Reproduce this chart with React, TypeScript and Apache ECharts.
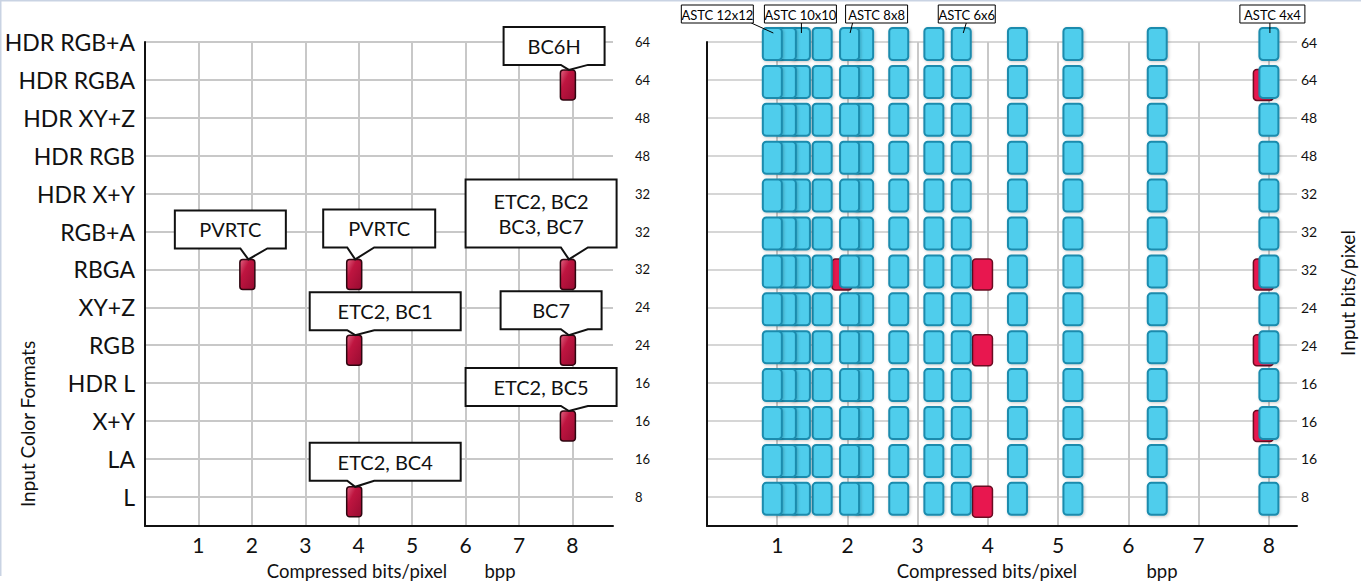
import React, { useEffect, useRef } from "react";
import * as echarts from "echarts";

// ---------- data ----------
const formats = [
  "HDR RGB+A", "HDR RGBA", "HDR XY+Z", "HDR RGB", "HDR X+Y", "RGB+A", "RBGA",
  "XY+Z", "RGB", "HDR L", "X+Y", "LA", "L",
];
const inputBits = [64, 64, 48, 48, 32, 32, 32, 24, 24, 16, 16, 16, 8];

// legacy formats (red markers)
const legacyBpp = [2, 4, 4, 4, 8, 8, 8, 8];
const legacyFormat = ["RBGA", "RBGA", "RGB", "L", "HDR RGBA", "RBGA", "RGB", "X+Y"];
const legacyCodec = [
  "PVRTC", "PVRTC", "ETC2, BC1", "ETC2, BC4", "BC6H", "ETC2, BC2\nBC3, BC7", "BC7", "ETC2, BC5",
];

// ASTC block bit rates (as placed in the picture), highest first so the lowest is on top
const astcBpp = [8.0, 6.41, 5.21, 4.42, 3.62, 3.23, 2.73, 2.23, 2.03, 1.64, 1.33, 1.13, 0.93];
const astcLabelText = ["ASTC 12x12", "ASTC 10x10", "ASTC 8x8", "ASTC 6x6", "ASTC 4x4"];
const astcLabelBpp = [0.93, 1.33, 2.03, 3.62, 8.0];

// ---------- layout / style ----------
const FONT = "Lato";
// callout: [dx of box left from marker centre, box width, gap box-bottom to marker top]
const calloutBox = [
  [-72.5, 111, 11], [-31, 112, 12], [-44.5, 151, 5], [-44.5, 151, 6],
  [-64.3, 101, 5], [-102.3, 151, 12], [-67.3, 101, 6], [-102.3, 151, 5],
];
// astc label: [dx box left, box width, line start dx, line end dx]
const astcLabelBox = [
  [-91, 72, -21, 1], [-36, 72, 1, 1], [-4, 62, 3, 0.5], [-23, 57, 5, 2], [-29, 65, 1, 1],
];

const gridLine = { color: "#c8c8c8", width: 2 };
const axisLineStyle = { color: "#111", width: 2 };

const makeBlockRenderer = (w: number, h: number, ox: number, oy: number, r: number, style: any) =>
  (params: any, api: any) => {
    const p = api.coord([api.value(0), api.value(1)]);
    return {
      type: "rect",
      shape: { x: p[0] + ox - w / 2, y: p[1] + oy - h / 2, width: w, height: h, r },
      style,
    };
  };

export default function App() {
  const ref = useRef<HTMLDivElement>(null);

  useEffect(() => {
    if (!ref.current) return;
    const chart = echarts.init(ref.current, undefined, { renderer: "svg" });

    const rowOf = (name: string) => formats.indexOf(name);
    const legacyData = legacyBpp.map((b, i) => [b, rowOf(legacyFormat[i])]);
    const calloutData = legacyBpp.map((b, i) => [b, rowOf(legacyFormat[i]), i]);
    const astcData: number[][] = [];
    formats.forEach((_, r) => astcBpp.forEach((b) => astcData.push([b, r])));
    const astcLabelData = astcLabelBpp.map((b, i) => [b, 0, i]);

    const nameFmt = (v: number) => (Number.isInteger(v) && formats[v] !== undefined ? formats[v] : "");
    const bitsFmt = (v: number) => (Number.isInteger(v) && inputBits[v] !== undefined ? String(inputBits[v]) : "");

    const xAxisBase = (gridIndex: number, max: number) => ({
      gridIndex,
      type: "value",
      min: 0,
      max,
      interval: 1,
      axisLine: { show: true, onZero: false, lineStyle: axisLineStyle },
      axisTick: { show: false },
      axisLabel: {
        showMinLabel: false,
        showMaxLabel: false,
        fontSize: 21,
        lineHeight: 20,
        fontFamily: FONT,
        color: "#111",
        margin: 8,
        formatter: (v: number) => (Number.isInteger(v) ? String(v) : ""),
      },
      splitLine: { show: true, showMinLine: false, showMaxLine: false, lineStyle: gridLine },
    });

    const yAxisBase = (gridIndex: number, position: string) => ({
      gridIndex,
      type: "value",
      inverse: true,
      min: 0,
      max: 12.77,
      interval: 1,
      position,
      axisTick: { show: false },
    });

    const nameText = (x: number, y: number, text: string, rot = 0) => ({
      type: "text",
      x,
      y,
      rotation: rot,
      style: {
        text,
        align: "center",
        verticalAlign: "middle",
        fontSize: rot ? 19 : 18.5,
        lineHeight: 18,
        fontFamily: FONT,
        fill: "#111",
      },
    });

    const option: any = {
      animation: false,
      backgroundColor: "#fff",
      textStyle: { fontFamily: FONT },
      grid: [
        { left: 145, top: 42, width: 468, height: 484 },
        { left: 707, top: 42, width: 590, height: 484 },
      ],
      xAxis: [xAxisBase(0, 8.76), xAxisBase(1, 8.4)],
      yAxis: [
        {
          ...yAxisBase(0, "left"),
          axisLine: { show: true, onZero: false, lineStyle: axisLineStyle },
          axisLabel: { formatter: nameFmt, fontSize: 23, fontFamily: FONT, color: "#111", margin: 10, showMaxLabel: false },
          splitLine: { show: true, showMaxLine: false, lineStyle: gridLine },
        },
        {
          ...yAxisBase(0, "right"),
          axisLine: { show: false },
          axisLabel: { formatter: bitsFmt, fontSize: 13, fontFamily: FONT, color: "#111", margin: 22, showMaxLabel: false },
          splitLine: { show: false },
        },
        {
          ...yAxisBase(1, "left"),
          axisLine: { show: true, onZero: false, lineStyle: axisLineStyle },
          axisLabel: { show: false },
          splitLine: { show: true, showMaxLine: false, lineStyle: { color: "#c8c8c8", width: 1.6 } },
        },
        {
          ...yAxisBase(1, "right"),
          axisLine: { show: false },
          axisLabel: { formatter: bitsFmt, fontSize: 14, fontFamily: FONT, color: "#111", margin: 4, showMaxLabel: false },
          splitLine: { show: false },
        },
      ],
      series: [
        // left chart markers
        {
          type: "custom",
          xAxisIndex: 0,
          yAxisIndex: 0,
          data: legacyData,
          clip: false,
          z: 3,
          renderItem: makeBlockRenderer(15, 30, -4.5, 5, 3, {
            fill: new echarts.graphic.LinearGradient(0, 0, 1, 1, [
              { offset: 0, color: "#e06583" },
              { offset: 0.35, color: "#bf1540" },
              { offset: 1, color: "#970b31" },
            ]),
            stroke: "#2e0610",
            lineWidth: 1.5,
          }),
        },
        // left chart callouts
        {
          type: "custom",
          xAxisIndex: 0,
          yAxisIndex: 0,
          data: calloutData,
          clip: false,
          z: 4,
          renderItem: (params: any, api: any) => {
            const i = api.value(2);
            const p = api.coord([api.value(0), api.value(1)]);
            const cx = p[0] - 4.5;
            const markerTop = p[1] + 5 - 15;
            const [dx, w, gap] = calloutBox[i];
            const text = legacyCodec[i];
            const lines = text.split("\n").length;
            const h = lines > 1 ? 68 : 38;
            const B = markerTop - gap;
            const T = B - h;
            const L = cx + dx;
            const R = L + w;
            const tipX = cx + 1;
            return {
              type: "group",
              children: [
                {
                  type: "polygon",
                  shape: {
                    points: [
                      [L, T], [R, T], [R, B], [tipX + 19, B], [tipX, markerTop], [tipX - 8, B], [L, B],
                    ],
                  },
                  style: { fill: "#fff", stroke: "#111", lineWidth: 2, lineJoin: "miter" },
                },
                {
                  type: "text",
                  x: (L + R) / 2,
                  y: (T + B) / 2,
                  style: {
                    text,
                    align: "center",
                    verticalAlign: "middle",
                    fontSize: 20,
                    fontFamily: FONT,
                    lineHeight: 25,
                    fill: "#111",
                  },
                },
              ],
            };
          },
        },
        // right chart legacy markers
        {
          type: "custom",
          xAxisIndex: 1,
          yAxisIndex: 2,
          data: legacyData,
          clip: false,
          z: 2,
          renderItem: makeBlockRenderer(20, 31, -5.5, 5, 3.5, {
            fill: "#e8174f",
            stroke: "#6a0c22",
            lineWidth: 1.5,
          }),
        },
        // ASTC blocks
        {
          type: "custom",
          xAxisIndex: 1,
          yAxisIndex: 2,
          data: astcData,
          clip: false,
          z: 3,
          renderItem: makeBlockRenderer(19, 32, 0, 2, 3.5, {
            fill: "#50cdec",
            stroke: "#1a8bad",
            lineWidth: 2,
            shadowBlur: 3,
            shadowColor: "rgba(0,0,0,0.22)",
            shadowOffsetX: 1,
            shadowOffsetY: 1,
          }),
        },
        // ASTC labels
        {
          type: "custom",
          xAxisIndex: 1,
          yAxisIndex: 2,
          data: astcLabelData,
          clip: false,
          z: 5,
          renderItem: (params: any, api: any) => {
            const i = api.value(2);
            const p = api.coord([api.value(0), api.value(1)]);
            const [dx, w, ls, le] = astcLabelBox[i];
            const top = p[1] - 37;
            const h = 18;
            return {
              type: "group",
              children: [
                {
                  type: "line",
                  shape: { x1: p[0] + ls, y1: top + h, x2: p[0] + le, y2: p[1] - 9 },
                  style: { stroke: "#000", lineWidth: 1 },
                },
                {
                  type: "rect",
                  shape: { x: p[0] + dx, y: top, width: w, height: h },
                  style: { fill: "#fff", stroke: "#000", lineWidth: 1 },
                },
                {
                  type: "text",
                  x: p[0] + dx + w / 2,
                  y: top + h / 2 + 0.5,
                  style: {
                    text: astcLabelText[i],
                    align: "center",
                    verticalAlign: "middle",
                    fontSize: 13,
                    fontFamily: FONT,
                    fill: "#000",
                  },
                },
              ],
            };
          },
        },
      ],
      graphic: [
        { type: "line", shape: { x1: 0, y1: 0.5, x2: 1361, y2: 0.5 }, style: { stroke: "#c9d3e3", lineWidth: 2 } },
        { type: "line", shape: { x1: 0.5, y1: 0, x2: 0.5, y2: 576 }, style: { stroke: "#c9d3e3", lineWidth: 2 } },
        nameText(27, 424, "Input Color Formats", Math.PI / 2),
        nameText(1347, 293, "Input bits/pixel", Math.PI / 2),
        nameText(357, 571, "Compressed bits/pixel"),
        nameText(500, 571, "bpp"),
        nameText(987, 571, "Compressed bits/pixel"),
        nameText(1162, 571, "bpp"),
      ],
    };

    chart.setOption(option);
    return () => chart.dispose();
  }, []);

  return (
    <div
      ref={ref}
      style={{ position: "absolute", left: 0, top: 0, width: 1361, height: 588, background: "#fff" }}
    />
  );
}
